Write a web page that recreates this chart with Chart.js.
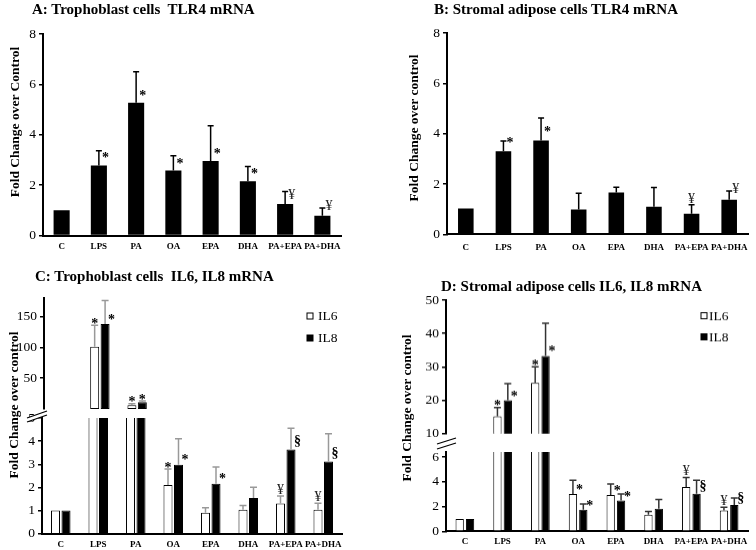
<!DOCTYPE html>
<html><head><meta charset="utf-8">
<script src="https://cdn.jsdelivr.net/npm/chart.js@4"></script>
<style>
html,body{margin:0;padding:0;background:#fff;}
#stage{position:relative;width:756px;height:550px;overflow:hidden;background:#fff;font-family:"Liberation Serif","Times New Roman",serif;color:#000;}
.box{position:absolute;}
.ttl{position:absolute;font-weight:bold;font-size:15px;line-height:15px;white-space:pre;}
.ytl{position:absolute;font-weight:bold;line-height:16px;height:16px;width:240px;text-align:center;white-space:pre;transform:rotate(-90deg);}
svg{position:absolute;left:0;top:0;}
</style></head>
<body>
<div id="stage"></div>
<script>
// ---------------- data ----------------
const categories = ['C','LPS','PA','OA','EPA','DHA','PA+EPA','PA+DHA'];
const seriesNames = ['IL6','IL8'];

// A: Trophoblast TLR4
const trophTLR4    = [1.0, 2.78, 5.27, 2.58, 2.96, 2.15, 1.25, 0.78];
const trophTLR4Err = [null, 3.36, 6.50, 3.17, 4.36, 2.74, 1.75, 1.09];
const trophTLR4Sig = ['', '*', '*', '*', '*', '*', '¥', '¥'];

// B: Stromal adipose TLR4
const stromTLR4    = [1.03, 3.30, 3.73, 0.99, 1.66, 1.09, 0.82, 1.37];
const stromTLR4Err = [null, 3.71, 4.62, 1.63, 1.87, 1.86, 1.17, 1.72];
const stromTLR4Sig = ['', '*', '*', '', '', '', '¥', '¥'];

// C: Trophoblast IL6 / IL8
const trophIL6    = [1.0, 101, 6.0, 2.10, 0.90, 1.04, 1.31, 1.04];
const trophIL6Err = [null, 136, 8.5, 2.80, 1.12, 1.22, 1.63, 1.32];
const trophIL6Sig = ['', '*', '*', '*', '', '', '¥', '¥'];
const trophIL8    = [1.0, 138, 11, 2.98, 2.16, 1.54, 3.64, 3.12];
const trophIL8Err = [null, 176, 13, 4.10, 2.88, 2.01, 4.56, 4.32];
const trophIL8Sig = ['', '*', '*', '*', '*', '', '§', '§'];

// D: Stromal adipose IL6 / IL8
const stromIL6    = [1.0, 15.2, 25.2, 3.01, 2.93, 1.33, 3.57, 1.68];
const stromIL6Err = [null, 17.8, 30.0, 4.13, 3.81, 1.60, 4.35, 1.95];
const stromIL6Sig = ['', '*', '*', '*', '*', '', '¥', '¥'];
const stromIL8    = [1.0, 20.0, 33.3, 1.73, 2.48, 1.81, 3.04, 2.13];
const stromIL8Err = [null, 25.0, 43.1, 2.21, 3.01, 2.56, 4.11, 2.69];
const stromIL8Sig = ['', '*', '*', '*', '*', '', '§', '§'];

// tick labels
const ticksTLR4   = [0, 2, 4, 6, 8];
const ticksCUpper = [50, 100, 150];
const ticksCLower = [0, 1, 2, 3, 4, 5];
const ticksDUpper = [10, 20, 30, 40, 50];
const ticksDLower = [0, 2, 4, 6];

// ---------------- rendering ----------------
const SERIF = '"Liberation Serif","Times New Roman",serif';
Chart.defaults.font.family = SERIF;
Chart.defaults.color = '#000';

const GLYPH = {
  '*': {c: -0.50, h: 0.17, bold: true,  color: '#000'},
  '¥': {c: -0.33, h: 0.33, bold: false, color: '#222'},
  '§': {c: -0.27, h: 0.42, bold: true,  color: '#000'}
};

const extras = {
  id: 'extras',
  afterDatasetsDraw(chart, args, o) {
    const {ctx, chartArea: a} = chart;
    const ys = chart.scales.y;
    chart.data.datasets.forEach((ds, di) => {
      const meta = chart.getDatasetMeta(di);
      meta.data.forEach((el, i) => {
        const v = ds.data[i];
        if (o.above != null) { if (!(v > o.above)) return; }
        else if (v > ys.max) return;
        const top = el.y;
        let ey = null;
        const e = ds.errTop ? ds.errTop[i] : null;
        if (e != null) {
          ey = ys.getPixelForValue(e);
          ctx.save();
          ctx.beginPath(); ctx.rect(a.left, a.top - 1, a.right - a.left, a.bottom - a.top + 1); ctx.clip();
          ctx.strokeStyle = o.errColor; ctx.lineWidth = o.errWidth; ctx.lineCap = 'butt';
          ctx.beginPath();
          ctx.moveTo(el.x, top); ctx.lineTo(el.x, ey);
          ctx.moveTo(el.x - o.cap, ey); ctx.lineTo(el.x + o.cap, ey);
          ctx.stroke();
          ctx.restore();
        }
        const s = ds.sig ? ds.sig[i] : '';
        if (s) {
          const g = GLYPH[s];
          const place = (o.place && o.place[di] && o.place[di][i]) || 'r';
          const size = o.sigSize;
          let cy, x, align;
          if (place === 't') { cy = (ey != null ? ey : top) - 2 - g.h * size; x = el.x; align = 'center'; }
          else { cy = top - o.rGap; x = el.x + 3; align = 'left'; }
          ctx.save();
          ctx.font = (g.bold ? 'bold ' : '') + size + 'px ' + SERIF;
          ctx.fillStyle = g.color; ctx.textAlign = align; ctx.textBaseline = 'alphabetic';
          ctx.fillText(s, x, cy - g.c * size);
          ctx.restore();
        }
      });
    });
  },
  afterDraw(chart, args, o) {
    if (!o.legend) return;
    const {ctx, chartArea: a} = chart;
    const L = o.legend;
    chart.data.datasets.forEach((ds, k) => {
      const cx = a.right + L.dx, cy = a.top + L.dy + k * L.gap;
      ctx.save();
      ctx.fillStyle = ds.legendFill;
      ctx.fillRect(cx - 3, cy - 3, 6, 6);
      ctx.strokeStyle = '#000'; ctx.lineWidth = 1;
      ctx.strokeRect(cx - 3, cy - 3, 6, 6);
      ctx.font = '13.5px ' + SERIF; ctx.fillStyle = '#000';
      ctx.textAlign = 'left'; ctx.textBaseline = 'middle';
      ctx.fillText(ds.label, cx + L.tx, cy + 0.5);
      ctx.restore();
    });
  }
};

function makePanel(id, area, cfg) {
  const YW = 40, PT = 12, PR = 14, PB = 12;
  const XH = cfg.xLabels ? 24 : 0;
  const div = document.createElement('div');
  div.className = 'box';
  div.style.left = (area.l - YW) + 'px';
  div.style.top = (area.t - PT) + 'px';
  div.style.width = (area.r - area.l + YW + PR) + 'px';
  div.style.height = (area.b - area.t + PT + (cfg.xLabels ? XH : PB)) + 'px';
  const cv = document.createElement('canvas'); cv.id = id;
  div.appendChild(cv); document.getElementById('stage').appendChild(div);
  return new Chart(cv, {
    type: 'bar',
    data: { labels: categories, datasets: cfg.datasets },
    options: {
      responsive: true, maintainAspectRatio: false, animation: false, devicePixelRatio: 1,
      layout: { padding: { left: 0, top: PT, right: PR, bottom: cfg.xLabels ? 0 : PB } },
      plugins: { legend: {display: false}, tooltip: {enabled: false}, title: {display: false}, extras: cfg.extras },
      scales: {
        x: {
          display: !!cfg.xLabels,
          afterFit: s => { s.height = XH; },
          grid: {display: false, drawTicks: false},
          border: {display: true, color: '#000', width: 2},
          ticks: {color: '#000', font: {size: 9, weight: 'bold', family: SERIF}, padding: cfg.xPad || 0, maxRotation: 0, autoSkip: false}
        },
        y: {
          min: cfg.min, max: cfg.max,
          afterFit: s => { s.width = YW; },
          afterBuildTicks: s => { s.ticks = cfg.ticks.map(v => ({value: v})); },
          grid: {drawOnChartArea: false, drawTicks: true, tickLength: 4, color: '#000', lineWidth: 1.5},
          border: {display: true, color: '#000', width: 2},
          ticks: {color: '#000', font: {size: 13.5, family: SERIF}, padding: 3}
        }
      }
    },
    plugins: [extras]
  });
}

function single(data, err, sig, bp, cp) {
  return [{data, errTop: err, sig, backgroundColor: '#000', borderWidth: 0, barPercentage: bp, categoryPercentage: cp, clip: 0}];
}
function pair(d6, e6, s6, d8, e8, s8, bp, cp, split, upper) {
  const vis = (col) => (upper ? (c => (c.raw > split ? col : 'rgba(0,0,0,0)')) : col);
  const common = {borderWidth: 1, barPercentage: bp, categoryPercentage: cp, clip: 0, borderSkipped: upper ? false : 'start'};
  return [
    Object.assign({label: seriesNames[0], data: d6, errTop: e6, sig: s6, legendFill: '#fff', backgroundColor: vis('#fff'), borderColor: vis('#000')}, common),
    Object.assign({label: seriesNames[1], data: d8, errTop: e8, sig: s8, legendFill: '#000', backgroundColor: vis('#000'), borderColor: vis('#000')}, common)
  ];
}

const R = 'r', T = 't';
const C_LOWER_MAX = 5, D_LOWER_MAX = 6.4;

// Panel A
makePanel('cA', {l: 43, t: 33.5, r: 341, b: 235}, {
  xLabels: true, xPad: 6, min: 0, max: 8, ticks: ticksTLR4,
  datasets: single(trophTLR4, trophTLR4Err, trophTLR4Sig, 0.9, 0.48),
  extras: {errColor: '#000', errWidth: 1.5, cap: 3, sigSize: 14, rGap: 10, place: [[R,R,R,R,R,R,R,R]]}
});
// Panel B
makePanel('cB', {l: 447, t: 33, r: 748, b: 234.3}, {
  xLabels: true, xPad: 8, min: 0, max: 8, ticks: ticksTLR4,
  datasets: single(stromTLR4, stromTLR4Err, stromTLR4Sig, 0.9, 0.46),
  extras: {errColor: '#000', errWidth: 1.5, cap: 3, sigSize: 14, rGap: 11, place: [[R,R,R,R,R,R,T,R]]}
});
// Panel C
const placeC = [[R,T,T,T,R,R,T,T],[R,R,T,R,R,R,R,R]];
makePanel('cCu', {l: 44, t: 298, r: 342, b: 409}, {
  xLabels: false, min: 0, max: 180, ticks: ticksCUpper,
  datasets: pair(trophIL6, trophIL6Err, trophIL6Sig, trophIL8, trophIL8Err, trophIL8Sig, 0.86, 0.56, C_LOWER_MAX, true),
  extras: {above: C_LOWER_MAX, errColor: '#999', errWidth: 1.5, cap: 3.5, sigSize: 14, rGap: 7, place: placeC,
           legend: {dx: -32, dy: 18, gap: 22, tx: 8}}
});
makePanel('cCl', {l: 42, t: 417.6, r: 342, b: 533.3}, {
  xLabels: true, xPad: 6, min: 0, max: C_LOWER_MAX, ticks: ticksCLower,
  datasets: pair(trophIL6, trophIL6Err, trophIL6Sig, trophIL8, trophIL8Err, trophIL8Sig, 0.86, 0.56, C_LOWER_MAX, false),
  extras: {errColor: '#999', errWidth: 1.5, cap: 3.5, sigSize: 14, rGap: 8, place: placeC}
});
// Panel D
const placeD = [[R,T,T,R,R,R,T,T],[R,R,R,R,R,R,R,R]];
makePanel('cDu', {l: 446, t: 300, r: 748, b: 432.7}, {
  xLabels: false, min: 10, max: 50, ticks: ticksDUpper,
  datasets: pair(stromIL6, stromIL6Err, stromIL6Sig, stromIL8, stromIL8Err, stromIL8Sig, 0.8, 0.55, D_LOWER_MAX, true),
  extras: {above: D_LOWER_MAX, errColor: '#333', errWidth: 1.5, cap: 3.5, sigSize: 14, rGap: 7, place: placeD,
           legend: {dx: -44, dy: 15.5, gap: 21, tx: 5}}
});
makePanel('cDl', {l: 446, t: 451.7, r: 748, b: 531}, {
  xLabels: true, xPad: 5, min: 0, max: D_LOWER_MAX, ticks: ticksDLower,
  datasets: pair(stromIL6, stromIL6Err, stromIL6Sig, stromIL8, stromIL8Err, stromIL8Sig, 0.8, 0.55, D_LOWER_MAX, false),
  extras: {errColor: '#333', errWidth: 1.5, cap: 3.5, sigSize: 14, rGap: 7, place: placeD}
});

// axis-break marks and text
const stage = document.getElementById('stage');
stage.insertAdjacentHTML('beforeend',
 '<svg width="756" height="550" viewBox="0 0 756 550">' +
 '<polygon points="27,418 47,411 47,415 27,422" fill="#fff"/>' +
 '<line x1="27" y1="418" x2="47" y2="411" stroke="#000" stroke-width="1.3"/>' +
 '<line x1="27" y1="422" x2="47" y2="415" stroke="#000" stroke-width="1.3"/>' +
 '<polygon points="437,444 456,438 456,443 437,449" fill="#fff"/>' +
 '<line x1="437" y1="444" x2="456" y2="438" stroke="#000" stroke-width="1.3"/>' +
 '<line x1="437" y1="449" x2="456" y2="443" stroke="#000" stroke-width="1.3"/>' +
 '</svg>');

function addText(cls, txt, left, top, extra) {
  const d = document.createElement('div');
  d.className = cls; d.textContent = txt;
  d.style.left = left + 'px'; d.style.top = top + 'px';
  if (extra) Object.assign(d.style, extra);
  stage.appendChild(d);
}
addText('ttl', 'A: Trophoblast cells  TLR4 mRNA', 32, 1.5);
addText('ttl', 'B: Stromal adipose cells TLR4 mRNA', 434, 1.5);
addText('ttl', 'C: Trophoblast cells  IL6, IL8 mRNA', 35, 269);
addText('ttl', 'D: Stromal adipose cells IL6, IL8 mRNA', 441, 279);
function yTitle(txt, cx, cy, size) { addText('ytl', txt, cx - 120, cy - 8, {fontSize: size + 'px'}); }
yTitle('Fold Change over Control', 15, 122, 13.5);
yTitle('Fold Change over control', 413.5, 128, 13.5);
yTitle('Fold Change over control', 14, 405, 13.5);
yTitle('Fold Change over control', 406.5, 408, 13.5);
</script>
</body></html>
